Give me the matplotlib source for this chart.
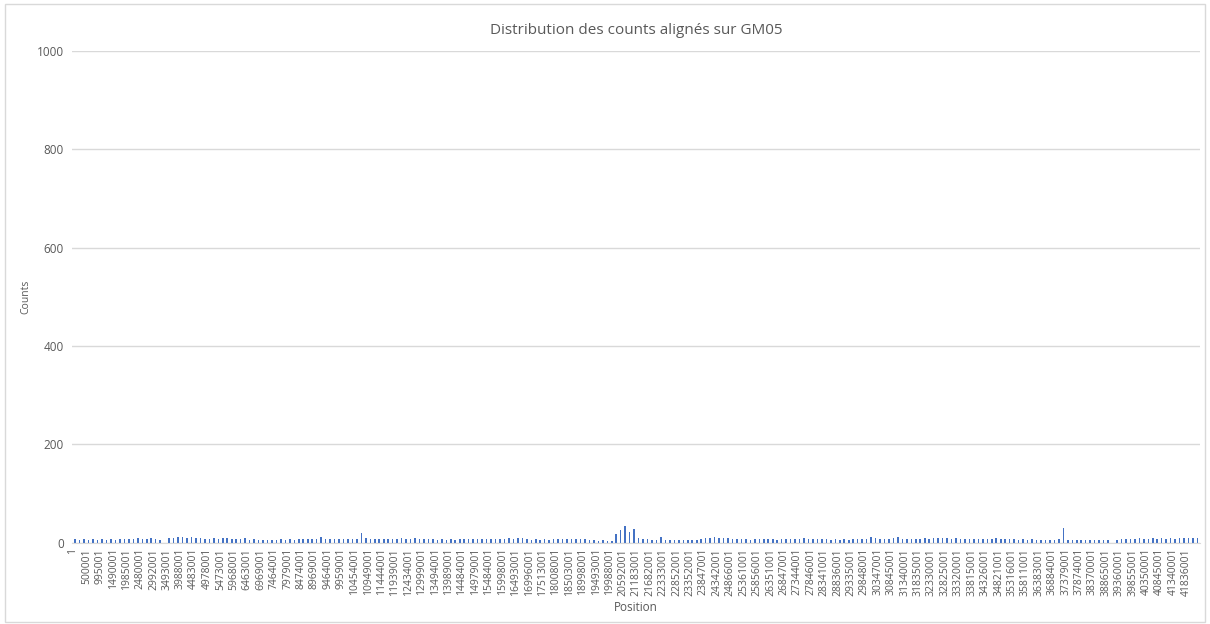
import matplotlib.pyplot as plt
from matplotlib.patches import Rectangle

plt.rcParams["font.family"] = ["Open Sans", "DejaVu Sans"]

TEXT_GREY = "#595959"
GRID_GREY = "#D9D9D9"
BAR_BLUE = "#4472C4"

# Category labels shown on the x axis (one every ~495 bins in the original)
position_labels = [
    "1", "500001", "995001", "1490001", "1985001", "2480001", "2992001",
    "3493001", "3988001", "4483001", "4978001", "5473001", "5968001",
    "6463001", "6969001", "7464001", "7979001", "8474001", "8969001",
    "9464001", "9959001", "10454001", "10949001", "11444001", "11939001",
    "12434001", "12999001", "13494001", "13989001", "14484001", "14979001",
    "15484001", "15998001", "16493001", "16996001", "17513001", "18008001",
    "18503001", "18998001", "19493001", "19988001", "20592001", "21183001",
    "21682001", "22333001", "22852001", "23352001", "23847001", "24342001",
    "24866001", "25361001", "25856001", "26351001", "26847001", "27344001",
    "27846001", "28341001", "28836001", "29335001", "29848001", "30347001",
    "30845001", "31340001", "31835001", "32330001", "32825001", "33320001",
    "33815001", "34326001", "34821001", "35316001", "35811001", "36383001",
    "36884001", "37379001", "37874001", "38370001", "38865001", "39360001",
    "39855001", "40350001", "40845001", "41340001", "41836001",
]

# Counts, three samples per labelled interval
counts = [
    7, 6, 7, 6, 7, 6, 7, 6, 8, 6, 7, 7, 8, 7, 9, 7, 8, 9, 8, 6, 0,
    9, 10, 11, 12, 10, 11, 9, 10, 8, 8, 9, 7, 9, 10, 8, 8, 7, 9,
    6, 7, 5, 6, 5, 6, 6, 7, 6, 7, 6, 7, 7, 8, 7, 8, 12, 7, 8, 7, 8,
    7, 8, 7, 7, 20, 9, 8, 7, 8, 7, 8, 7, 8, 9, 7, 8, 10, 8, 7, 8, 7,
    6, 7, 6, 7, 6, 7, 7, 8, 7, 7, 7, 8, 7, 8, 7, 8, 9, 8, 9, 10, 8,
    6, 7, 6, 7, 6, 7, 7, 8, 7, 7, 8, 7, 7, 6, 5, 4, 5, 4,
    4, 18, 26, 33, 22, 28, 10, 8, 7, 5, 6, 12, 5, 6, 5, 5, 6, 5,
    6, 6, 7, 9, 10, 12, 10, 9, 9, 8, 8, 7, 7, 6, 7, 7, 8, 7, 7, 6, 7,
    7, 8, 7, 7, 9, 8, 8, 7, 8, 7, 6, 7, 6, 7, 6, 7, 8, 7, 8, 12, 9,
    8, 7, 8, 9, 12, 8, 7, 8, 7, 8, 9, 8, 9, 10, 9, 9, 8, 9, 8, 7, 8,
    7, 8, 7, 7, 8, 9, 8, 7, 8, 7, 6, 7, 6, 7, 6, 6, 5, 6, 6, 7, 30,
    6, 5, 6, 6, 5, 6, 6, 5, 6, 5, 0, 6, 7, 8, 7, 8, 9, 8, 8, 9, 8,
    9, 8, 9, 8, 9, 10, 9, 10, 9,
]

y_ticks = [0, 200, 400, 600, 800, 1000]

fig = plt.figure(figsize=(12.1, 6.24), dpi=100)
ax = fig.add_axes([0.0595, 0.1306, 0.932, 0.7877])

# Light chart border like the Excel chart area
fig.patches.append(
    Rectangle((0.004, 0.004), 0.992, 0.99, transform=fig.transFigure,
              fill=False, edgecolor=GRID_GREY, linewidth=1)
)

step = 1 / 3
x = [i * step + step / 2 for i in range(len(counts))]
# thin bars give the spiky look of the dense Excel columns
ax.bar(x, counts, width=step * 0.35, color=BAR_BLUE, linewidth=0)

ax.set_ylim(0, 1000)
ax.set_yticks(y_ticks)
ax.set_xlim(-0.075, 84)
ax.set_xticks(range(len(position_labels)))
ax.set_xticklabels(position_labels, rotation=90)

ax.yaxis.grid(True, color=GRID_GREY, linewidth=1)
ax.set_axisbelow(True)
for side in ["top", "right", "left"]:
    ax.spines[side].set_visible(False)
ax.spines["bottom"].set_color(GRID_GREY)
ax.tick_params(axis="both", length=0, colors=TEXT_GREY)
ax.tick_params(axis="x", pad=4, labelsize=7.5)
ax.tick_params(axis="y", pad=6, labelsize=8.5)

ax.set_title("Distribution des counts alignés sur GM05", fontsize=11,
             color=TEXT_GREY, pad=12)
ax.set_ylabel("Counts", fontsize=7.5, color=TEXT_GREY, labelpad=4)
ax.set_xlabel("Position", fontsize=8.5, color=TEXT_GREY, labelpad=4)

fig.savefig("out.png", dpi=100)
